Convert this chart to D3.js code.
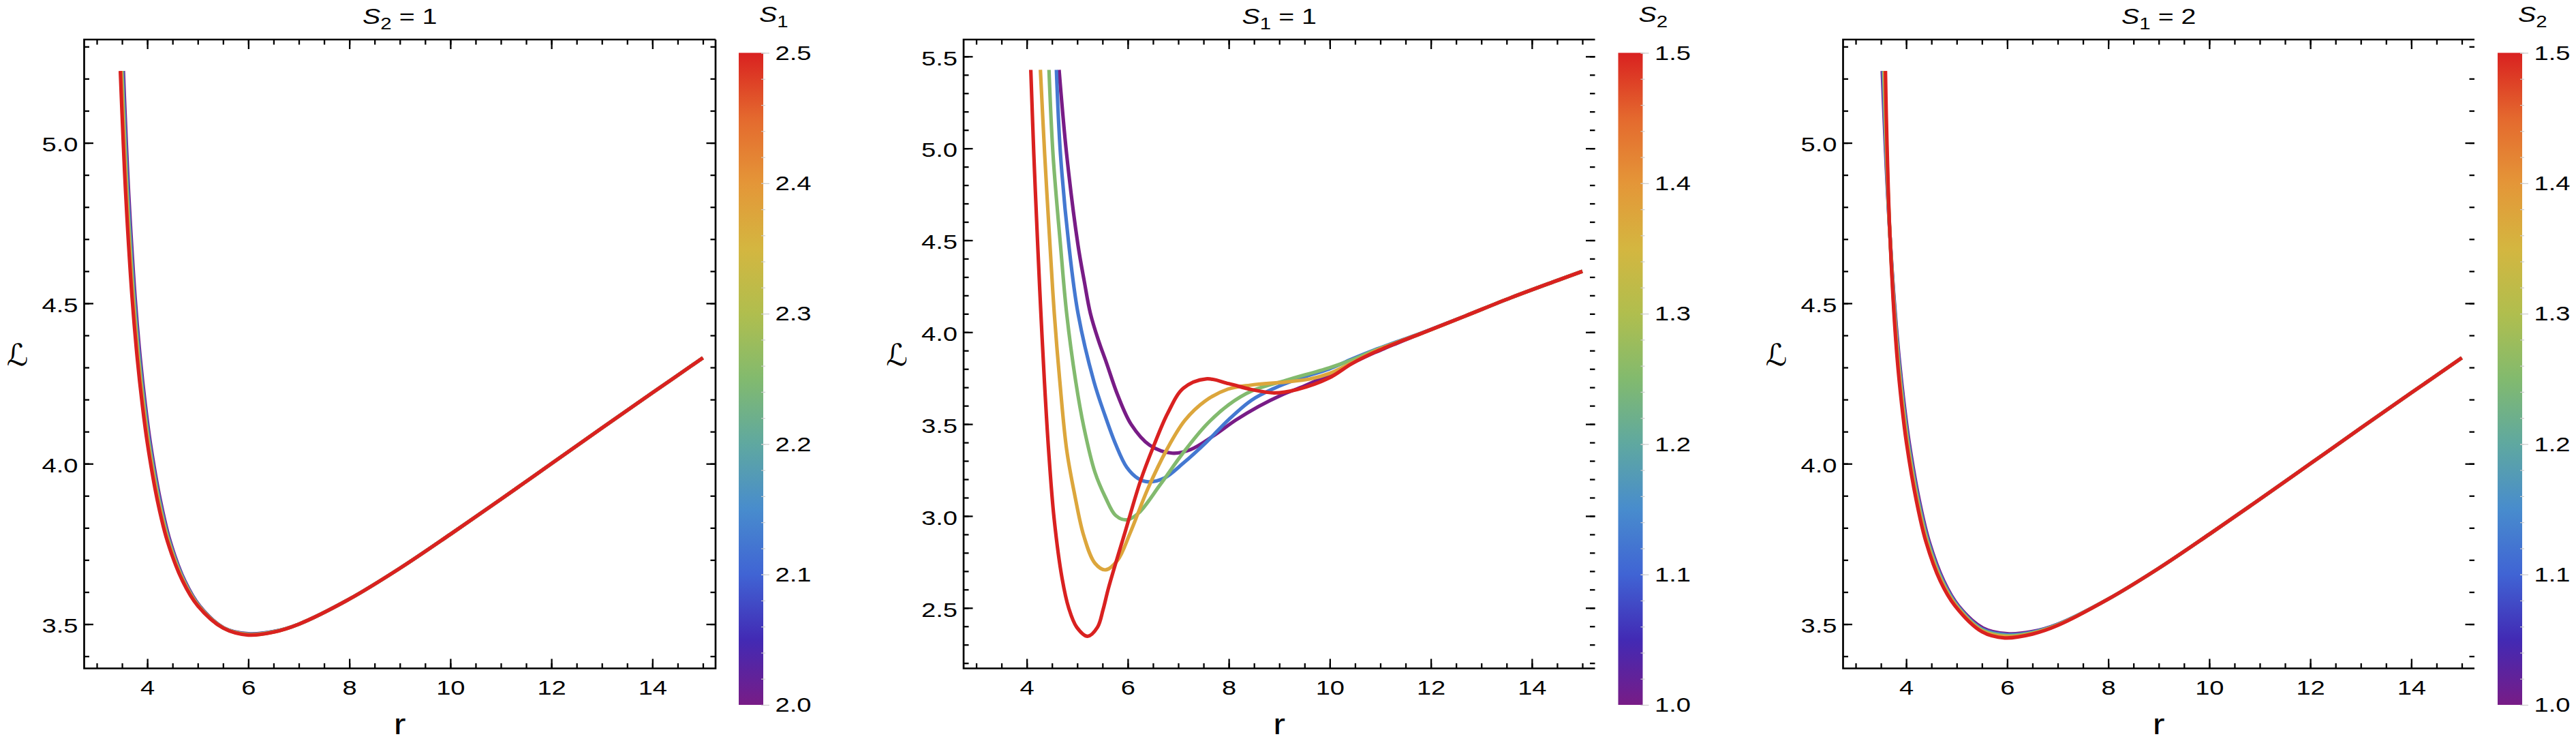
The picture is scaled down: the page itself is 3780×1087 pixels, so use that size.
<!DOCTYPE html>
<html>
<head>
<meta charset="utf-8">
<script src="https://cdn.jsdelivr.net/npm/d3@7"></script>
<style>
  body { margin: 0; background: #fff; }
</style>
</head>
<body>
<svg id="chart" width="3780" height="1087"></svg>
<script>
// ---- values ----
const rDomain = [2.75, 15.25];
const rMajor = [4, 6, 8, 10, 12, 14];
const rMinor = [3, 3.5, 4, 4.5, 5, 5.5, 6, 6.5, 7, 7.5, 8, 8.5, 9, 9.5, 10, 10.5, 11, 11.5, 12, 12.5, 13, 13.5, 14, 14.5, 15];

const lDomainA = [3.362, 5.322];
const lMajorA = [3.5, 4.0, 4.5, 5.0];
const lMinorA = [3.4, 3.5, 3.6, 3.7, 3.8, 3.9, 4.0, 4.1, 4.2, 4.3, 4.4, 4.5, 4.6, 4.7, 4.8, 4.9, 5.0, 5.1, 5.2, 5.3];
const lDomainB = [2.171, 5.592];
const lMajorB = [2.5, 3.0, 3.5, 4.0, 4.5, 5.0, 5.5];
const lMinorB = [2.2, 2.3, 2.4, 2.5, 2.6, 2.7, 2.8, 2.9, 3.0, 3.1, 3.2, 3.3, 3.4, 3.5, 3.6, 3.7, 3.8, 3.9,
                 4.0, 4.1, 4.2, 4.3, 4.4, 4.5, 4.6, 4.7, 4.8, 4.9, 5.0, 5.1, 5.2, 5.3, 5.4, 5.5];

const barDomainA = [2.0, 2.5];
const barTicksA = [2.0, 2.1, 2.2, 2.3, 2.4, 2.5];
const barMinorA = [2.00, 2.02, 2.04, 2.06, 2.08, 2.10, 2.12, 2.14, 2.16, 2.18, 2.20, 2.22, 2.24, 2.26, 2.28,
                   2.30, 2.32, 2.34, 2.36, 2.38, 2.40, 2.42, 2.44, 2.46, 2.48, 2.50];
const barDomainB = [1.0, 1.5];
const barTicksB = [1.0, 1.1, 1.2, 1.3, 1.4, 1.5];
const barMinorB = [1.00, 1.02, 1.04, 1.06, 1.08, 1.10, 1.12, 1.14, 1.16, 1.18, 1.20, 1.22, 1.24, 1.26, 1.28,
                   1.30, 1.32, 1.34, 1.36, 1.38, 1.40, 1.42, 1.44, 1.46, 1.48, 1.50];

const panelTitles = [["S", "2", " = 1"], ["S", "1", " = 1"], ["S", "1", " = 2"]];
const barTitles = [["S", "1"], ["S", "2"], ["S", "2"]];

// parameter of each curve (drawn in this order)
const paramsA = [2.0, 2.125, 2.25, 2.375, 2.5];   // S1, with S2 = 1
const paramsB = [1.0, 1.125, 1.25, 1.375, 1.5];   // S2, with S1 = 1
const paramsC = [1.0, 1.125, 1.25, 1.375, 1.5];   // S2, with S1 = 2

// shared far tails [r, L]
const tailA = [[8, 3.578], [9, 3.674], [10, 3.78], [11, 3.889], [12, 4.0], [13, 4.111], [14, 4.221], [15, 4.33]];
const tailB = [[12.68, 4.088], [13.58, 4.187], [14.48, 4.279], [15.0, 4.331]];

// panel 1 : S2 = 1
const a_S1_2000 = [[3.526, 5.224], [3.56, 5.09], [3.61, 4.91], [3.66, 4.76], [3.76, 4.515], [3.86, 4.33], [3.96, 4.185],
                   [4.06, 4.065], [4.26, 3.885], [4.455, 3.757], [4.745, 3.634], [5.035, 3.557], [5.52, 3.488],
                   [6.0, 3.47], [6.5, 3.477], [7.0, 3.5]].concat(tailA);
const a_S1_2125 = [[3.511, 5.224], [3.545, 5.09], [3.595, 4.91], [3.645, 4.76], [3.745, 4.515], [3.845, 4.33], [3.945, 4.185],
                   [4.045, 4.065], [4.245, 3.885], [4.441, 3.757], [4.734, 3.634], [5.026, 3.557], [5.515, 3.488],
                   [6.0, 3.469], [6.5, 3.4765], [7.0, 3.5]].concat(tailA);
const a_S1_2250 = [[3.496, 5.224], [3.53, 5.09], [3.58, 4.91], [3.63, 4.76], [3.73, 4.515], [3.83, 4.33], [3.93, 4.185],
                   [4.03, 4.065], [4.23, 3.885], [4.428, 3.757], [4.723, 3.634], [5.018, 3.557], [5.51, 3.488],
                   [6.0, 3.468], [6.5, 3.476], [7.0, 3.5]].concat(tailA);
const a_S1_2375 = [[3.481, 5.224], [3.515, 5.09], [3.565, 4.91], [3.615, 4.76], [3.715, 4.515], [3.815, 4.33], [3.915, 4.185],
                   [4.015, 4.065], [4.215, 3.885], [4.414, 3.757], [4.711, 3.634], [5.009, 3.557], [5.505, 3.488],
                   [6.0, 3.467], [6.5, 3.4755], [7.0, 3.5]].concat(tailA);
const a_S1_2500 = [[3.466, 5.224], [3.5, 5.09], [3.55, 4.91], [3.6, 4.76], [3.7, 4.515], [3.8, 4.33], [3.9, 4.185],
                   [4.0, 4.065], [4.2, 3.885], [4.4, 3.757], [4.7, 3.634], [5.0, 3.557], [5.5, 3.488],
                   [6.0, 3.466], [6.5, 3.475], [7.0, 3.5]].concat(tailA);

// panel 2 : S1 = 1
const b_S2_1000 = [[4.64, 5.427], [4.79, 4.967], [5.015, 4.473], [5.14, 4.275], [5.26, 4.102], [5.42, 3.955], [5.576, 3.835],
                   [5.8, 3.658], [6.07, 3.497], [6.43, 3.386], [6.88, 3.342], [7.24, 3.361], [7.69, 3.435], [8.14, 3.522],
                   [8.59, 3.596], [9.04, 3.658], [9.49, 3.707], [9.985, 3.769], [10.43, 3.83], [10.88, 3.888], [11.33, 3.94],
                   [11.78, 3.99]].concat(tailB);
const b_S2_1125 = [[4.587, 5.427], [4.668, 4.967], [4.834, 4.473], [5.015, 4.102], [5.33, 3.731], [5.55, 3.546], [5.76, 3.39],
                   [5.98, 3.265], [6.2, 3.205], [6.41, 3.186], [6.72, 3.206], [7.1, 3.288], [7.55, 3.4], [8.0, 3.525],
                   [8.45, 3.63], [8.9, 3.695], [9.35, 3.744], [9.985, 3.8], [10.43, 3.853], [10.88, 3.903], [11.33, 3.948],
                   [11.78, 3.992]].concat(tailB);
const b_S2_1250 = [[4.44, 5.427], [4.52, 4.967], [4.668, 4.473], [4.79, 4.102], [4.97, 3.731], [5.13, 3.484], [5.35, 3.238],
                   [5.56, 3.1], [5.76, 3.003], [5.98, 2.979], [6.21, 3.015], [6.64, 3.17], [7.1, 3.345], [7.55, 3.495],
                   [8.0, 3.606], [8.45, 3.68], [9.13, 3.738], [9.985, 3.806], [10.43, 3.848], [10.88, 3.9], [11.33, 3.945],
                   [11.78, 3.99]].concat(tailB);
const b_S2_1375 = [[4.27, 5.427], [4.355, 4.967], [4.46, 4.473], [4.545, 4.102], [4.655, 3.731], [4.79, 3.361], [4.95, 3.114],
                   [5.13, 2.891], [5.35, 2.743], [5.56, 2.707], [5.8, 2.76], [6.05, 2.91], [6.4, 3.15], [6.77, 3.36],
                   [7.13, 3.52], [7.53, 3.625], [7.98, 3.69], [8.43, 3.712], [9.13, 3.729], [9.6, 3.745], [9.985, 3.775],
                   [10.43, 3.833], [10.88, 3.895], [11.33, 3.945], [11.78, 3.99]].concat(tailB);
const b_S2_1500 = [[4.08, 5.427], [4.14, 4.967], [4.217, 4.473], [4.28, 4.102], [4.35, 3.731], [4.432, 3.361], [4.54, 2.99],
                   [4.7, 2.66], [4.83, 2.5], [4.99, 2.395], [5.204, 2.346], [5.4, 2.395], [5.51, 2.49],
                   [5.62, 2.61], [5.96, 2.925], [6.25, 3.19], [6.52, 3.386], [6.79, 3.559], [7.1, 3.695], [7.55, 3.746],
                   [8.0, 3.72], [8.45, 3.688], [8.9, 3.67], [9.35, 3.688], [9.98, 3.75], [10.43, 3.828], [10.88, 3.89],
                   [11.33, 3.942], [11.78, 3.99]].concat(tailB);

// panel 3 : S1 = 2  (S2 = 1 is the same curve as S1 = 2 in panel 1)
const c_S2_1000 = a_S1_2000;
const c_S2_1125 = [[3.542, 5.224], [3.571, 5.09], [3.616, 4.91], [3.661, 4.76], [3.755, 4.515], [3.85, 4.33], [3.948, 4.185],
                   [4.046, 4.065], [4.245, 3.885], [4.439, 3.757], [4.728, 3.634], [5.018, 3.557], [5.5, 3.485],
                   [6.0, 3.467], [6.5, 3.475], [7.0, 3.499]].concat(tailA);
const c_S2_1250 = [[3.558, 5.224], [3.583, 5.09], [3.623, 4.91], [3.663, 4.76], [3.75, 4.515], [3.84, 4.33], [3.935, 4.185],
                   [4.033, 4.065], [4.23, 3.885], [4.423, 3.757], [4.71, 3.634], [5.0, 3.557], [5.5, 3.482],
                   [6.0, 3.464], [6.5, 3.473], [7.0, 3.498]].concat(tailA);
const c_S2_1375 = [[3.573, 5.224], [3.594, 5.09], [3.629, 4.91], [3.664, 4.76], [3.745, 4.515], [3.83, 4.33], [3.923, 4.185],
                   [4.019, 4.065], [4.215, 3.885], [4.406, 3.757], [4.693, 3.634], [4.983, 3.557], [5.5, 3.479],
                   [6.0, 3.461], [6.5, 3.471], [7.0, 3.497]].concat(tailA);
const c_S2_1500 = [[3.589, 5.224], [3.605, 5.09], [3.635, 4.91], [3.665, 4.76], [3.74, 4.515], [3.82, 4.33], [3.91, 4.185],
                   [4.005, 4.065], [4.2, 3.885], [4.39, 3.757], [4.675, 3.634], [4.965, 3.557], [5.5, 3.476],
                   [5.95, 3.457], [6.5, 3.469], [7.0, 3.496]].concat(tailA);

// Mathematica-like "Rainbow" gradient
const rainbowStops = [0, 0.1, 0.2, 0.3, 0.4, 0.5, 0.6, 0.7, 0.8, 0.9, 1];
const rainbowColors = ["#781c86", "#422ab4", "#4064d4", "#488ccd", "#5fa8a0", "#82ba6e",
                       "#b0be4e", "#d4b640", "#e49638", "#e4692e", "#d92120"];

// ---- drawing ----
const FONT = '"Liberation Sans", Arial, Helvetica, sans-serif';
const STRETCH = 1.27;            // the figure's lettering is wider than the font
const frameTop = 58, frameBottom = 980.5, frameWidth = 926.5;
const barTop = 77.5, barBottom = 1034, barWidth = 36;
const panelLefts = [123.5, 1414, 2704.5];

const rainbow = d3.scaleLinear().domain(rainbowStops).range(rainbowColors).interpolate(d3.interpolateRgb);

const panels = [
  { yDomain: lDomainA, yMajor: lMajorA, yMinor: lMinorA, barDomain: barDomainA, barTicks: barTicksA, barMinor: barMinorA,
    params: paramsA, series: [a_S1_2000, a_S1_2125, a_S1_2250, a_S1_2375, a_S1_2500], rightFrame: true },
  { yDomain: lDomainB, yMajor: lMajorB, yMinor: lMinorB, barDomain: barDomainB, barTicks: barTicksB, barMinor: barMinorB,
    params: paramsB, series: [b_S2_1000, b_S2_1125, b_S2_1250, b_S2_1375, b_S2_1500], rightFrame: false },
  { yDomain: lDomainA, yMajor: lMajorA, yMinor: lMinorA, barDomain: barDomainB, barTicks: barTicksB, barMinor: barMinorB,
    params: paramsC, series: [c_S2_1000, c_S2_1125, c_S2_1250, c_S2_1375, c_S2_1500], rightFrame: false }
];

const svg = d3.select("#chart");
svg.append("rect").attr("width", 3780).attr("height", 1087).attr("fill", "#fff");
const defs = svg.append("defs");

// widen text horizontally around its own x anchor
function stretch(sel) {
  sel.each(function () {
    const t = d3.select(this);
    const x0 = +(t.attr("x") || 0);
    t.attr("transform", `translate(${x0 * (1 - STRETCH)},0) scale(${STRETCH},1)`);
  });
  return sel;
}

function styleAxis(a, color, width) {
  a.select(".domain").remove();
  a.attr("font-family", FONT).attr("font-size", 30);
  a.selectAll(".tick line").attr("stroke", color).attr("stroke-width", width);
  stretch(a.selectAll(".tick text").attr("fill", "#000"));
  return a;
}

function subscripted(sel, parts, size) {
  sel.append("tspan").attr("font-style", "italic").text(parts[0]);
  sel.append("tspan").attr("font-size", size * 0.75).attr("dy", size * 0.26).text(parts[1]);
  if (parts[2]) sel.append("tspan").attr("dy", -size * 0.26).text(parts[2].replace(/ /g, "\u00a0"));
}

panels.forEach((cfg, idx) => {
  const left = panelLefts[idx];
  const right = left + frameWidth;
  const x = d3.scaleLinear().domain(rDomain).range([left, right]);
  const y = d3.scaleLinear().domain(cfg.yDomain).range([frameBottom, frameTop]);
  const g = svg.append("g");

  // curves
  const color = p => rainbow((p - cfg.barDomain[0]) / (cfg.barDomain[1] - cfg.barDomain[0]));
  const line = d3.line().x(d => x(d[0])).y(d => y(d[1])).curve(d3.curveCatmullRom.alpha(0.5));
  cfg.series.forEach((s, i) => {
    g.append("path").datum(s).attr("d", line)
      .attr("fill", "none").attr("stroke", color(cfg.params[i]))
      .attr("stroke-width", 5.2).attr("stroke-linejoin", "round");
  });

  // frame ticks (inside)
  const tw = 2.3;
  styleAxis(g.append("g").attr("transform", `translate(0,${frameBottom})`)
    .call(d3.axisBottom(x).tickValues(rMinor).tickSize(-7.5).tickFormat("")), "#000", tw);
  styleAxis(g.append("g").attr("transform", `translate(0,${frameBottom})`)
    .call(d3.axisBottom(x).tickValues(rMajor).tickSize(-14).tickPadding(17.5).tickFormat(d3.format("d"))), "#000", tw);
  styleAxis(g.append("g").attr("transform", `translate(0,${frameTop})`)
    .call(d3.axisTop(x).tickValues(rMinor).tickSize(-7.5).tickFormat("")), "#000", tw);
  styleAxis(g.append("g").attr("transform", `translate(0,${frameTop})`)
    .call(d3.axisTop(x).tickValues(rMajor).tickSize(-14).tickFormat("")), "#000", tw);
  styleAxis(g.append("g").attr("transform", `translate(${left},0)`)
    .call(d3.axisLeft(y).tickValues(cfg.yMinor).tickSize(-7.5).tickFormat("")), "#000", tw);
  const yl = styleAxis(g.append("g").attr("transform", `translate(${left},0)`)
    .call(d3.axisLeft(y).tickValues(cfg.yMajor).tickSize(-13.5).tickPadding(9).tickFormat(d3.format(".1f"))), "#000", tw);
  yl.selectAll(".tick text").attr("dy", "0.41em");
  styleAxis(g.append("g").attr("transform", `translate(${right},0)`)
    .call(d3.axisRight(y).tickValues(cfg.yMinor).tickSize(-7.5).tickFormat("")), "#000", tw);
  styleAxis(g.append("g").attr("transform", `translate(${right},0)`)
    .call(d3.axisRight(y).tickValues(cfg.yMajor).tickSize(-13.5).tickFormat("")), "#000", tw);

  // frame
  let framePath = `M${right},${frameTop}H${left}V${frameBottom}H${right}`;
  if (cfg.rightFrame) framePath += `V${frameTop}`;
  g.append("path").attr("d", framePath).attr("fill", "none").attr("stroke", "#000").attr("stroke-width", 2.7);

  // title
  const title = g.append("text").attr("x", (left + right) / 2).attr("y", 35)
    .attr("text-anchor", "middle").attr("font-family", FONT).attr("font-size", 31);
  subscripted(title, panelTitles[idx], 31);
  stretch(title);

  // axis labels
  stretch(g.append("text").attr("x", (left + right) / 2).attr("y", 1077).attr("text-anchor", "middle")
    .attr("font-family", FONT).attr("font-size", 42).text("r"));
  g.append("text").attr("x", left - 98).attr("y", 520).attr("text-anchor", "middle").attr("dy", "0.36em")
    .attr("font-family", '"DejaVu Serif", "DejaVu Sans", serif').attr("font-size", 44).attr("font-style", "italic")
    .text("\u2112");

  // colour bar
  const bx = right + 34;
  const cb = d3.scaleLinear().domain(cfg.barDomain).range([barBottom, barTop]);
  const grad = defs.append("linearGradient").attr("id", "grad" + idx)
    .attr("x1", 0).attr("y1", 1).attr("x2", 0).attr("y2", 0);
  rainbowStops.forEach((t, i) => grad.append("stop").attr("offset", t).attr("stop-color", rainbowColors[i]));
  g.append("rect").attr("x", bx).attr("y", barTop).attr("width", barWidth).attr("height", barBottom - barTop)
    .attr("fill", `url(#grad${idx})`);
  styleAxis(g.append("g").attr("transform", `translate(${bx + barWidth - 3},0)`)
    .call(d3.axisRight(cb).tickValues(cfg.barMinor).tickSize(6).tickFormat("")), "#cccccc", 1.2);
  styleAxis(g.append("g").attr("transform", `translate(${bx + barWidth - 3},0)`)
    .call(d3.axisRight(cb).tickValues(cfg.barTicks).tickSize(12).tickPadding(8.5).tickFormat(d3.format(".1f"))), "#cccccc", 1.2);

  const bt = g.append("text").attr("x", bx + 30).attr("y", 32)
    .attr("font-family", FONT).attr("font-size", 31);
  subscripted(bt, barTitles[idx], 31);
  stretch(bt);
});
</script>
</body>
</html>
